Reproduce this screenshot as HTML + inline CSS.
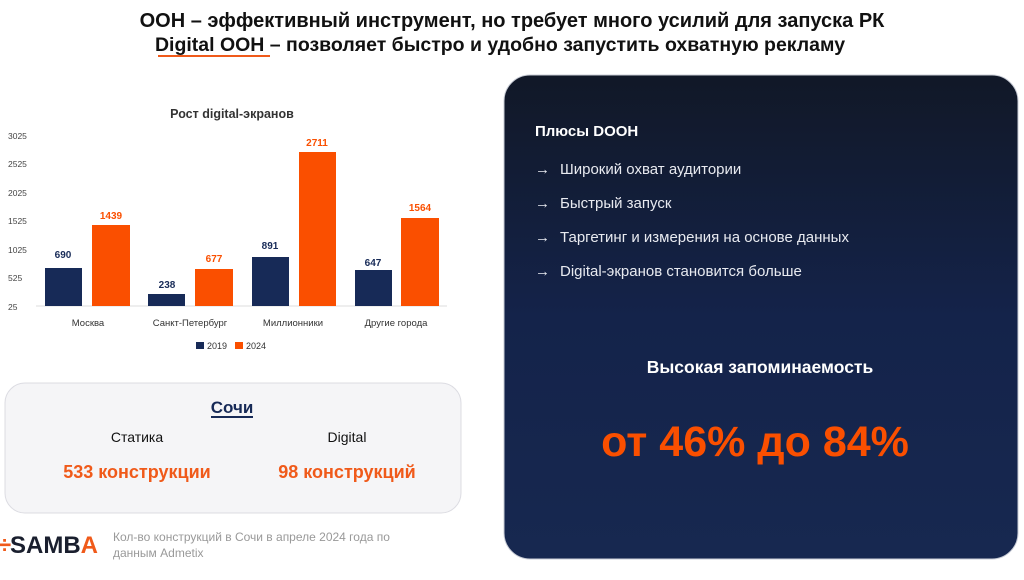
<!DOCTYPE html>
<html><head><meta charset="utf-8"><style>
body{margin:0;width:1024px;height:575px;background:#fff;overflow:hidden}
text{font-family:"Liberation Sans","Noto Sans CJK SC",sans-serif}
</style></head><body>
<svg width="1024" height="575" xmlns="http://www.w3.org/2000/svg">
<defs><linearGradient id="g" x1="0" y1="0" x2="0" y2="1"><stop offset="0" stop-color="#111827"/><stop offset="0.5" stop-color="#14234a"/><stop offset="1" stop-color="#172850"/></linearGradient></defs>
<text x="512" y="27" text-anchor="middle" font-size="20" font-weight="bold" fill="#111">ООН – эффективный инструмент, но требует много усилий для запуска РК</text>
<text x="500" y="51" text-anchor="middle" font-size="19.5" font-weight="bold" fill="#111">Digital ООН – позволяет быстро и удобно запустить охватную рекламу</text>
<rect x="158" y="55" width="112" height="2" fill="#f05a1a"/>
<text x="232" y="118" text-anchor="middle" font-size="12.5" font-weight="bold" fill="#333">Рост digital-экранов</text>
<g font-size="8.5" fill="#444">
<text x="8" y="139">3025</text><text x="8" y="167">2525</text><text x="8" y="196">2025</text><text x="8" y="224">1525</text><text x="8" y="253">1025</text><text x="8" y="281">525</text><text x="8" y="310">25</text></g>
<line x1="36" y1="306" x2="447" y2="306" stroke="#ddd"/>
<g fill="#172a57"><rect x="45" y="268" width="37" height="38"/><rect x="148" y="294" width="37" height="12"/><rect x="252" y="257" width="37" height="49"/><rect x="355" y="270" width="37" height="36"/></g>
<g fill="#fa4f00"><rect x="92" y="225" width="38" height="81"/><rect x="195" y="269" width="38" height="37"/><rect x="299" y="152" width="37" height="154"/><rect x="401" y="218" width="38" height="88"/></g>
<g font-size="10" font-weight="bold" text-anchor="middle" fill="#172a57"><text x="63" y="258">690</text><text x="167" y="288">238</text><text x="270" y="249">891</text><text x="373" y="266">647</text></g>
<g font-size="10" font-weight="bold" text-anchor="middle" fill="#fa4f00"><text x="111" y="219">1439</text><text x="214" y="262">677</text><text x="317" y="146">2711</text><text x="420" y="211">1564</text></g>
<g font-size="9.5" text-anchor="middle" fill="#333"><text x="88" y="326">Москва</text><text x="190" y="326">Санкт-Петербург</text><text x="293" y="326">Миллионники</text><text x="396" y="326">Другие города</text></g>
<rect x="196" y="342" width="8" height="7" fill="#172a57"/><text x="207" y="349" font-size="9" fill="#333">2019</text>
<rect x="235" y="342" width="8" height="7" fill="#fa4f00"/><text x="246" y="349" font-size="9" fill="#333">2024</text>
<rect x="5" y="383" width="456" height="130" rx="20" fill="#f5f5f7" stroke="#dcdce2"/>
<text x="232" y="413" text-anchor="middle" font-size="17" font-weight="bold" fill="#172a57">Сочи</text>
<rect x="211" y="416" width="42" height="2" fill="#172a57"/>
<text x="137" y="442" text-anchor="middle" font-size="14" fill="#111">Статика</text>
<text x="347" y="442" text-anchor="middle" font-size="14" fill="#111">Digital</text>
<text x="137" y="478" text-anchor="middle" font-size="18" font-weight="bold" fill="#f05a1a">533 конструкции</text>
<text x="347" y="478" text-anchor="middle" font-size="18" font-weight="bold" fill="#f05a1a">98 конструкций</text>
<text x="-2" y="553" font-size="24" font-weight="bold" fill="#f05a1a">÷</text>
<text x="10" y="553" font-size="24" font-weight="bold" fill="#1a1f2e">SAMB<tspan fill="#f05a1a">A</tspan></text>
<text x="113" y="541" font-size="12" fill="#999">Кол-во конструкций в Сочи в апреле 2024 года по</text>
<text x="113" y="557" font-size="12" fill="#999">данным Admetix</text>
<rect x="504" y="75" width="514" height="484" rx="26" fill="url(#g)" stroke="#c8ccd6"/>
<text x="535" y="136" font-size="15" font-weight="bold" fill="#fff">Плюсы DOOH</text>
<g font-size="15" fill="#e8eaf0"><text x="535" y="174">→</text><text x="535" y="208">→</text><text x="535" y="242">→</text><text x="535" y="276">→</text>
<text x="560" y="174">Широкий охват аудитории</text><text x="560" y="208">Быстрый запуск</text><text x="560" y="242">Таргетинг и измерения на основе данных</text><text x="560" y="276">Digital-экранов становится больше</text></g>
<text x="760" y="373" text-anchor="middle" font-size="17.5" font-weight="bold" fill="#fff">Высокая запоминаемость</text>
<text x="755" y="456" text-anchor="middle" font-size="43" font-weight="bold" fill="#fa4f00">от 46% до 84%</text>
</svg>
</body></html>
